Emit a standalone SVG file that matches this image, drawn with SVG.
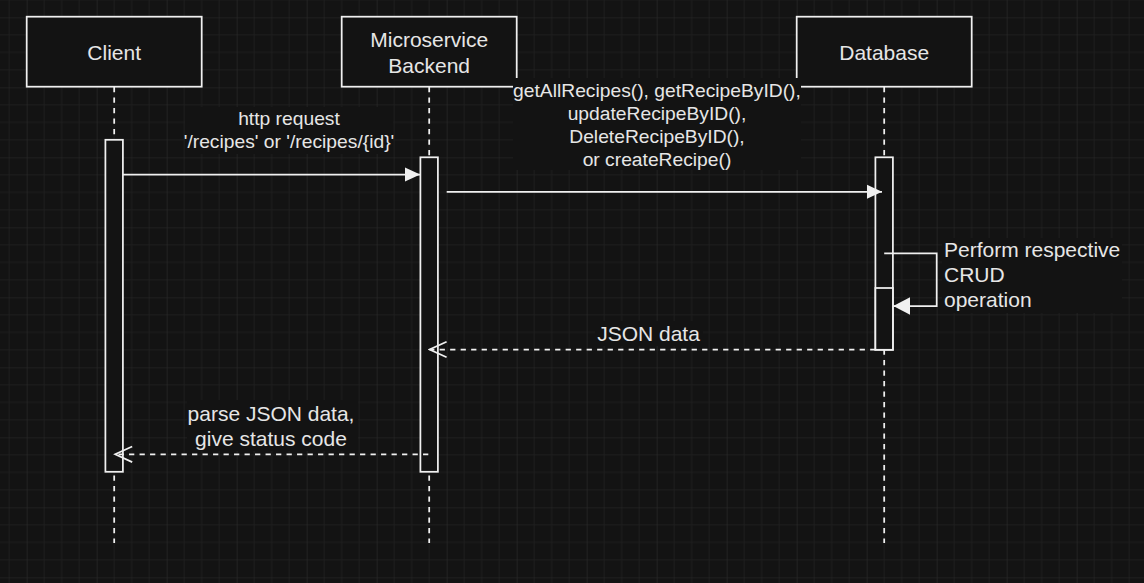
<svg xmlns="http://www.w3.org/2000/svg" width="1144" height="583" viewBox="0 0 1144 583">
  <style>
    .box { fill: #131313; stroke: #f0f0f0; stroke-width: 1.75; }
    .life { fill: none; stroke: #f0f0f0; stroke-width: 1.75; stroke-dasharray: 5.25 5.25; }
    .solid { fill: none; stroke: #f0f0f0; stroke-width: 1.75; }
    .dash { fill: none; stroke: #f0f0f0; stroke-width: 1.75; stroke-dasharray: 5.25 5.25; }
    .lbg { fill: #131313; stroke: none; }
    text { font-family: 'Liberation Sans', Arial, Helvetica, sans-serif; fill: #e6e6e6; }
    .t21 { font-size: 21px; }
    .t19 { font-size: 19.25px; }
    .mid { text-anchor: middle; }
  </style>
  <defs>
    <pattern id="grid" patternUnits="userSpaceOnUse" x="26.67" y="17.33" width="70" height="70">
      <path d="M17.5,0 V70 M35,0 V70 M52.5,0 V70 M0,17.5 H70 M0,35 H70 M0,52.5 H70" stroke="#1e1e1e" stroke-width="1" fill="none"/>
      <path d="M0,0 V70 M0,0 H70" stroke="#2a2a2a" stroke-width="1.2" fill="none"/>
    </pattern>
    <marker id="block" markerUnits="userSpaceOnUse" viewBox="0 0 16 16" refX="15.5" refY="8" markerWidth="16" markerHeight="16" orient="auto">
      <path d="M0,0.8 L15.5,8 L0,15.2 Z" fill="#f0f0f0"/>
    </marker>
    <marker id="blockL" markerUnits="userSpaceOnUse" viewBox="0 0 18 20" refX="17" refY="10" markerWidth="18" markerHeight="20" orient="auto">
      <path d="M0,1 L17,10 L0,19 Z" fill="#f0f0f0"/>
    </marker>
    <marker id="open" markerUnits="userSpaceOnUse" viewBox="0 0 20 20" refX="18" refY="10" markerWidth="20" markerHeight="20" orient="auto">
      <path d="M1,2.2 L18,10 L1,17.8" fill="none" stroke="#f0f0f0" stroke-width="1.75"/>
    </marker>
  </defs>

  <rect x="0" y="0" width="1144" height="583" fill="#131313"/>
  <rect x="0" y="0" width="1144" height="583" fill="url(#grid)"/>

  <g id="client">
    <line class="life" x1="114.2" y1="87" x2="114.2" y2="543"/>
    <rect class="box" x="26.7" y="16.7" width="175" height="70"/>
    <text class="t21 mid" x="114.2" y="60">Client</text>
    <rect class="box" x="105.4" y="139.8" width="17.5" height="332"/>
  </g>

  <g id="backend">
    <line class="life" x1="429.2" y1="87" x2="429.2" y2="543"/>
    <rect class="box" x="341.7" y="16.7" width="175" height="70"/>
    <text class="t21 mid" x="429.2" y="47">Microservice</text>
    <text class="t21 mid" x="429.2" y="72.5">Backend</text>
    <rect class="box" x="420.4" y="157.3" width="17.5" height="314.5"/>
  </g>

  <g id="database">
    <line class="life" x1="884.2" y1="87" x2="884.2" y2="543"/>
    <rect class="box" x="796.7" y="16.7" width="175" height="70"/>
    <text class="t21 mid" x="884.2" y="59.5">Database</text>
    <rect class="box" x="875.4" y="157.3" width="17.5" height="192.5"/>
    <rect class="box" x="875.4" y="288" width="17.5" height="61.8"/>
  </g>

  <g id="connectors">
    <g id="msg-http">
      <line class="solid" x1="122.9" y1="174.5" x2="420.2" y2="174.5" marker-end="url(#block)"/>
      <rect class="lbg" x="185" y="107" width="208" height="47"/>
      <text class="t19 mid" x="289" y="125">http request</text>
      <text class="t19 mid" x="289" y="148">'/recipes' or '/recipes/{id}'</text>
    </g>
    <g id="msg-db">
      <line class="solid" x1="446.7" y1="191.8" x2="882" y2="191.8" marker-end="url(#block)"/>
      <rect class="lbg" x="513" y="78" width="288" height="92"/>
      <text class="t19 mid" x="657" y="97">getAllRecipes(), getRecipeByID(),</text>
      <text class="t19 mid" x="657" y="120">updateRecipeByID(),</text>
      <text class="t19 mid" x="657" y="143">DeleteRecipeByID(),</text>
      <text class="t19 mid" x="657" y="166">or createRecipe()</text>
    </g>
    <g id="msg-self">
      <polyline class="solid" points="884.2,253.3 936.7,253.3 936.7,306 893.3,306" marker-end="url(#blockL)"/>
      <rect class="lbg" x="942" y="238" width="180" height="75"/>
      <text class="t21" x="944" y="257">Perform respective</text>
      <text class="t21" x="944" y="282">CRUD</text>
      <text class="t21" x="944" y="307">operation</text>
    </g>
    <g id="msg-json">
      <line class="dash" x1="875.4" y1="349.5" x2="429.6" y2="349.5" marker-end="url(#open)"/>
      <rect class="lbg" x="595" y="321" width="108" height="25"/>
      <text class="t21 mid" x="648.5" y="341">JSON data</text>
    </g>
    <g id="msg-return">
      <line class="dash" x1="428.3" y1="454.3" x2="115.2" y2="454.3" marker-end="url(#open)"/>
      <rect class="lbg" x="187" y="400" width="171" height="51"/>
      <text class="t21 mid" x="271" y="421">parse JSON data,</text>
      <text class="t21 mid" x="271" y="446">give status code</text>
    </g>
  </g>
</svg>
